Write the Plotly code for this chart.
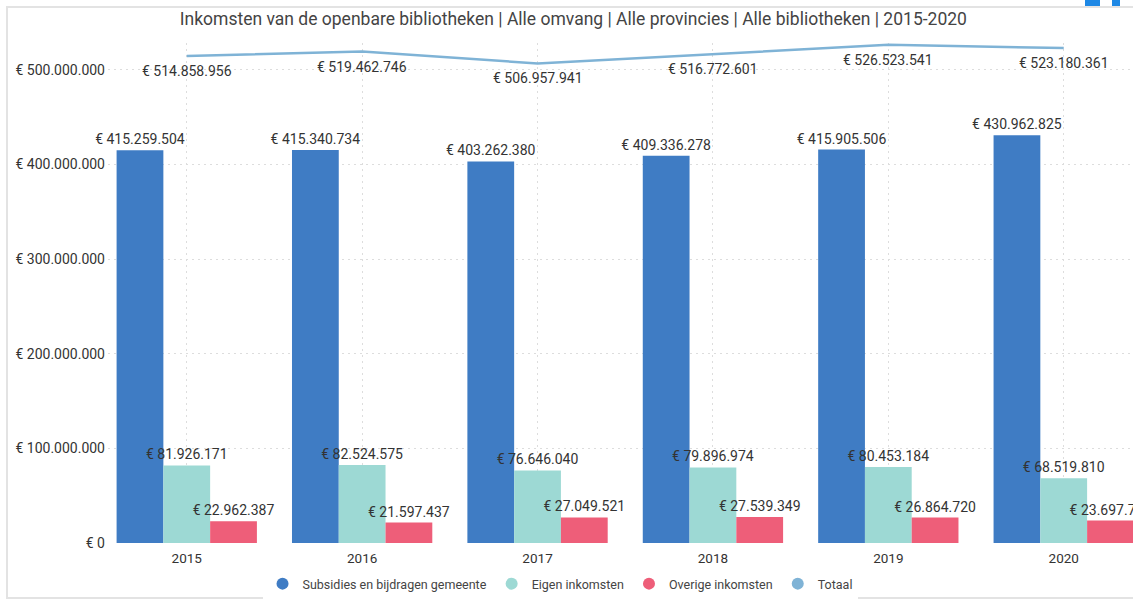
import plotly.graph_objects as go

years = ["2015", "2016", "2017", "2018", "2019", "2020"]
subsidies = [415259504, 415340734, 403262380, 409336278, 415905506, 430962825]
eigen = [81926171, 82524575, 76646040, 79896974, 80453184, 68519810]
overige = [22962387, 21597437, 27049521, 27539349, 26864720, 23697726]
totaal = [514858956, 519462746, 506957941, 516772601, 526523541, 523180361]
y_ticks = [0, 100000000, 200000000, 300000000, 400000000, 500000000]

names = ["Subsidies en bijdragen gemeente", "Eigen inkomsten", "Overige inkomsten", "Totaal"]
colors = ["#3F7CC4", "#9DD9D4", "#EE5E79", "#7FB3D6"]
title = "Inkomsten van de openbare bibliotheken | Alle omvang | Alle provincies | Alle bibliotheken | 2015-2020"


def eur(v):
    return "€ " + f"{v:,}".replace(",", ".")


FONT = "Roboto"
TXT = "#333333"
GRID = "#DDDDDD"

fig = go.Figure()
for vals, name, col in zip([subsidies, eigen, overige], names[:3], colors[:3]):
    fig.add_trace(go.Bar(
        x=years, y=vals, name=name, marker=dict(color=col, line=dict(width=0)),
        text=[eur(v) for v in vals], textposition="outside", constraintext="none",
        textfont=dict(family=FONT, size=14, color=TXT),
        cliponaxis=False, showlegend=False,
    ))

fig.add_trace(go.Scatter(
    x=years, y=totaal, name=names[3], mode="lines",
    line=dict(color=colors[3], width=2.5),
    showlegend=False, cliponaxis=False,
))
# category axis: annotations are positioned by category index
for i, v in enumerate(totaal):
    fig.add_annotation(x=i, y=v, xref="x", yref="y", text=eur(v), showarrow=False,
                       yshift=-15, yanchor="middle",
                       font=dict(family=FONT, size=14, color=TXT))

# legend entries with round markers
for name, col in zip(names, colors):
    fig.add_trace(go.Scatter(
        x=[None], y=[None], mode="markers", name=name,
        marker=dict(color=col, size=11, symbol="circle"), showlegend=True,
    ))

fig.update_layout(
    width=1133, height=603,
    margin=dict(l=108, r=0, t=43, b=60),
    paper_bgcolor="white", plot_bgcolor="white",
    barmode="group", bargap=0.2, bargroupgap=0,
    font=dict(family=FONT, color=TXT),
    title=dict(text=title, x=0.454, xanchor="center", xref="paper", y=0.968, yanchor="middle",
               font=dict(family=FONT, size=17.5, color="#444444")),
    legend=dict(orientation="h", x=0.441, xanchor="center", y=-0.082, yanchor="middle",
                font=dict(family=FONT, size=12.5, color="#444444"),
                itemwidth=30, tracegroupgap=0, itemsizing="constant"),
    showlegend=True,
)
fig.update_xaxes(
    type="category", range=[-0.449, 5.395],
    showgrid=True, gridcolor=GRID, griddash="2px,4px", gridwidth=1,
    showline=False, zeroline=False, ticks="", ticklabelstandoff=5,
    tickfont=dict(family=FONT, size=13.5, color=TXT),
)
fig.update_yaxes(
    range=[0, 528500000], tickvals=y_ticks, ticktext=[eur(v) for v in y_ticks],
    showgrid=True, gridcolor=GRID, griddash="2px,4px", gridwidth=1,
    zeroline=False, showline=False, ticks="", ticklabelstandoff=2,
    tickfont=dict(family=FONT, size=14, color=TXT),
)

# outer frame and small corner icons
fig.add_shape(type="rect", xref="paper", yref="paper",
              x0=(7 - 108) / 1025, x1=1.05, y0=(543 - 598) / 500, y1=(543 - 7) / 500,
              line=dict(color="#E3E3E3", width=2), fillcolor="rgba(0,0,0,0)", layer="below")
fig.add_shape(type="rect", xref="paper", yref="paper",
              x0=(1085 - 108) / 1025, x1=(1100 - 108) / 1025,
              y0=(543 - 6) / 500, y1=(543 + 2) / 500,
              line=dict(width=0), fillcolor="#1E88E5")
fig.add_shape(type="rect", xref="paper", yref="paper",
              x0=(1112 - 108) / 1025, x1=(1120 - 108) / 1025,
              y0=(543 - 6) / 500, y1=(543 + 2) / 500,
              line=dict(width=0), fillcolor="#1E88E5")

fig.write_html("out.html", config={"displayModeBar": False},
               post_script="document.body.style.margin='0';document.body.style.overflow='hidden';")
